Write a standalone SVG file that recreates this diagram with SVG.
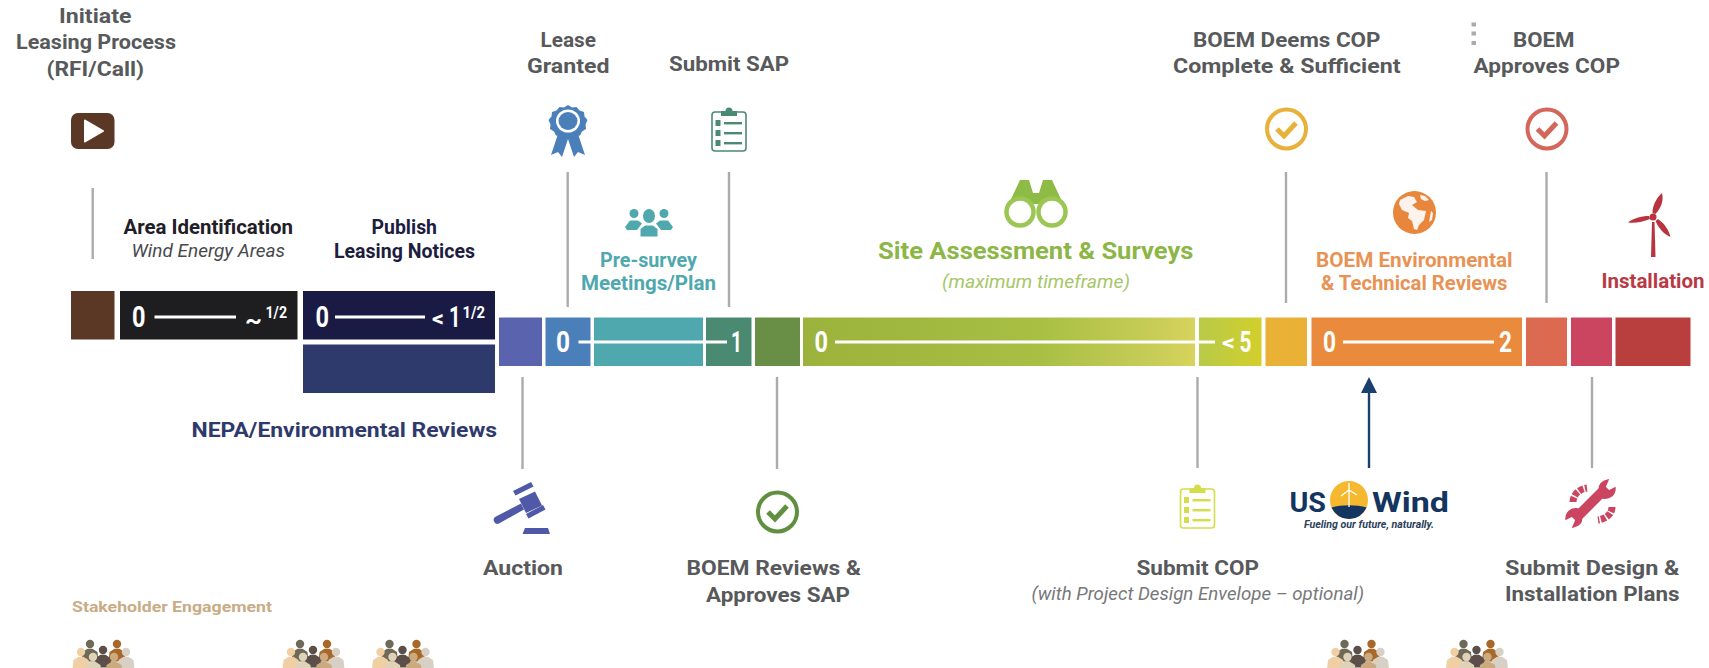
<svg xmlns="http://www.w3.org/2000/svg" xmlns:xlink="http://www.w3.org/1999/xlink" width="1709" height="668" viewBox="0 0 1709 668">
<style>
text{font-family:Roboto,"Open Sans","Liberation Sans",sans-serif;font-weight:700}
.g{font-size:20.500px;fill:#58595b}
.d{font-size:19.500px;fill:#1f2027}
.i{font-size:17.500px;font-style:italic;font-weight:400}
.n{font-size:29px;font-weight:700;fill:#fff}
.s{font-size:16px;font-weight:700;fill:#fff}
.c{stroke:#a9abad;stroke-width:2.400;fill:none}
.w{stroke:#fff;stroke-width:3;fill:none}
.ck{fill:none;stroke-width:4}
.ckm{fill:none;stroke-width:5;stroke-linejoin:miter}
</style>
<defs>
<linearGradient id="grad1" x1="0" x2="1" y1="0" y2="0">
<stop offset="0" stop-color="#9bb23c"/><stop offset=".6" stop-color="#a8bf44"/><stop offset=".9" stop-color="#c8cd58"/><stop offset="1" stop-color="#d8d35c"/>
</linearGradient>
<linearGradient id="grad2" x1="0" x2="1" y1="0" y2="0">
<stop offset="0" stop-color="#b8ca48"/><stop offset="1" stop-color="#d3cf2c"/>
</linearGradient>
<path id="person" d="M0-4.200a4 4 0 0 1 0 8.400a4 4 0 0 1 0-8.400zM-2.500 4.800h5l5 3.200 1 9.500h-17l1-9.500z"/>
<g id="crowd">
<use xlink:href="#person" x="18" y="6" fill="#6f6a57"/>
<use xlink:href="#person" x="45" y="6" fill="#a8682a"/>
<use xlink:href="#person" x="9" y="14" fill="#f0cfa4"/>
<use xlink:href="#person" x="54" y="14" fill="#d8d0c4"/>
<use xlink:href="#person" x="31" y="12" fill="#5c4f4a"/>
<use xlink:href="#person" x="21" y="19" fill="#ded3b8"/>
<use xlink:href="#person" x="42" y="19" fill="#c9ab7f"/>
</g>
<g id="clip">
<rect x="-17" y="5" width="34" height="39" rx="3" fill="#fff" stroke-width="1.600" stroke="currentColor"/>
<path d="M-8 5v-1h4.500a3.500 3.500 0 0 1 7 0h4.500v5h-16z" fill="currentColor"/>
<g fill="currentColor">
<rect x="-13.500" y="13" width="5" height="6"/><rect x="-13.500" y="23" width="5" height="6"/><rect x="-13.500" y="33" width="5" height="6"/>
<rect x="-5" y="15" width="18" height="2.400"/><rect x="-5" y="25" width="18" height="2.400"/><rect x="-5" y="35" width="18" height="2.400"/>
</g>
</g>
</defs>

<g id="connectors">
<path class="c" d="M92.700 188V259"/>
<path class="c" d="M567.700 172V307"/>
<path class="c" d="M729 172V307"/>
<path class="c" d="M1286 172V303"/>
<path class="c" d="M1546.500 172V303"/>
<path class="c" d="M522.500 377V469"/>
<path class="c" d="M777 377V469"/>
<path class="c" d="M1197.500 377V468"/>
<path class="c" d="M1592 377V468"/>
<path d="M1369 468V390" stroke="#1a4070" stroke-width="2.400" fill="none"/>
<path d="M1369 377l8 16h-16z" fill="#1a4070"/>
</g>

<g id="bar">
<rect x="71" y="291" width="43.500" height="48.500" fill="#5a3825"/>
<rect x="120" y="291" width="177.500" height="48.500" fill="#1e1e20"/>
<rect x="303" y="291" width="192" height="48.500" fill="#1a1b45"/>
<rect x="303" y="344.500" width="192" height="48.500" fill="#2f3a6c"/>
<rect x="499" y="317.500" width="43" height="48.500" fill="#5a63ad"/>
<rect x="545.500" y="317.500" width="45" height="48.500" fill="#4a7fba"/>
<rect x="594" y="317.500" width="109" height="48.500" fill="#4fa8ae"/>
<rect x="706" y="317.500" width="45.500" height="48.500" fill="#4a8a72"/>
<rect x="755" y="317.500" width="45" height="48.500" fill="#688f45"/>
<rect x="803" y="317.500" width="392" height="48.500" fill="url(#grad1)"/>
<rect x="1199" y="317.500" width="62.500" height="48.500" fill="url(#grad2)"/>
<rect x="1265.500" y="317.500" width="41.500" height="48.500" fill="#eab137"/>
<rect x="1311.500" y="317.500" width="210.500" height="48.500" fill="#e98a3c"/>
<rect x="1526" y="317.500" width="41" height="48.500" fill="#dc6a50"/>
<rect x="1571" y="317.500" width="41" height="48.500" fill="#cb4560"/>
<rect x="1615.500" y="317.500" width="75" height="48.500" fill="#b93e3e"/>
<path class="w" d="M154.500 317H236M335 317H425M578.500 342H727M835 342H1215M1343 342H1494"/>
<text class="n" x="132" y="327" textLength="13.500" lengthAdjust="spacingAndGlyphs">0</text>
<text class="n" x="245" y="328" style="font-size:24px" textLength="17" lengthAdjust="spacingAndGlyphs">~</text>
<text class="s" x="265.500" y="318" textLength="21.500" lengthAdjust="spacingAndGlyphs">1/2</text>
<text class="n" x="315.500" y="327" textLength="13.500" lengthAdjust="spacingAndGlyphs">0</text>
<text class="n" x="432" y="326" style="font-size:22px" textLength="12" lengthAdjust="spacingAndGlyphs">&lt;</text>
<text class="n" x="449" y="327" textLength="11.500" lengthAdjust="spacingAndGlyphs">1</text>
<text class="s" x="462.500" y="318" textLength="22.500" lengthAdjust="spacingAndGlyphs">1/2</text>
<text class="n" x="556" y="352" textLength="14" lengthAdjust="spacingAndGlyphs">0</text>
<text class="n" x="731" y="352" textLength="11" lengthAdjust="spacingAndGlyphs">1</text>
<text class="n" x="814.500" y="352" textLength="13.500" lengthAdjust="spacingAndGlyphs">0</text>
<text class="n" x="1222" y="350" style="font-size:22px" textLength="13" lengthAdjust="spacingAndGlyphs">&lt;</text>
<text class="n" x="1239.500" y="352" textLength="12" lengthAdjust="spacingAndGlyphs">5</text>
<text class="n" x="1323" y="352" textLength="13" lengthAdjust="spacingAndGlyphs">0</text>
<text class="n" x="1499" y="352" textLength="13" lengthAdjust="spacingAndGlyphs">2</text>
</g>

<g id="node-initiate">
<text class="g" x="59" y="22.700" textLength="72.500" lengthAdjust="spacingAndGlyphs">Initiate</text>
<text class="g" x="16" y="49.300" textLength="160" lengthAdjust="spacingAndGlyphs">Leasing Process</text>
<text class="g" x="46.500" y="75.500" textLength="97.500" lengthAdjust="spacingAndGlyphs">(RFI/Call)</text>
<rect x="71" y="113" width="43.500" height="36" rx="7" fill="#5a3825"/>
<path d="M85 120.500L103 131L85 141.500z" fill="#fff" stroke="#fff" stroke-width="2" stroke-linejoin="round"/>
</g>
<g id="node-area">
<text class="d" x="123.500" y="234" textLength="169.500" lengthAdjust="spacingAndGlyphs">Area Identification</text>
<text class="i" x="131.500" y="257" textLength="153.500" lengthAdjust="spacingAndGlyphs" fill="#48494c">Wind Energy Areas</text>
</g>
<g id="node-publish">
<text class="d" x="371.500" y="234" textLength="65.500" lengthAdjust="spacingAndGlyphs" style="fill:#1c1d40">Publish</text>
<text class="d" x="334" y="257.500" textLength="141" lengthAdjust="spacingAndGlyphs" style="fill:#1c1d40">Leasing Notices</text>
</g>
<g id="node-nepa">
<text class="g" x="191.500" y="437" textLength="305.500" lengthAdjust="spacingAndGlyphs" style="fill:#2f3a6c">NEPA/Environmental Reviews</text>
</g>
<g id="node-lease">
<text class="g" x="540.500" y="47" textLength="55.500" lengthAdjust="spacingAndGlyphs">Lease</text>
<text class="g" x="527" y="73" textLength="82.500" lengthAdjust="spacingAndGlyphs">Granted</text>
<path d="M558 134l-7 21 7-3 4 5 6-18 6 18 4-5 7 3-7-21z" fill="#4a7fba"/>
<path d="M568 105l4 2.500 4.500-.5 3 3.500 4.500 1.500.5 4.500 3 3.500-2 4.500.5 4.500-4 2.500-2 4-4.500.5-3.500 3-4-1.500-4 1.500-3.500-3-4.500-.5-2-4-4-2.500.5-4.500-2-4.500 3-3.500.5-4.500 4.500-1.500 3-3.500 4.500.5z" fill="#4a7fba"/>
<ellipse cx="568" cy="121" rx="12" ry="11.500" fill="#fff"/>
<ellipse cx="568" cy="121" rx="9.500" ry="9" fill="#4a7fba"/>
</g>
<g id="node-submit-sap">
<text class="g" x="669" y="71" textLength="120" lengthAdjust="spacingAndGlyphs">Submit SAP</text>
<use xlink:href="#clip" x="729" y="107" color="#4a8a72"/>
</g>
<g id="node-presurvey" fill="#4fa8ae">
<circle cx="634" cy="213.500" r="4.500"/><circle cx="664" cy="213.500" r="4.500"/>
<path d="M625 227l5-6.500h8l4 3-5 6.500h-10zM673 227l-5-6.500h-8l-4 3 5 6.500h10z"/>
<ellipse cx="649" cy="216" rx="6" ry="7"/>
<path d="M640 237v-8l5-4h8l5 4v8z" stroke="#fff" stroke-width="1"/>
<text class="g" x="600" y="266.700" textLength="97" lengthAdjust="spacingAndGlyphs" style="fill:#4fa8ae">Pre-survey</text>
<text class="g" x="581" y="290" textLength="135" lengthAdjust="spacingAndGlyphs" style="fill:#4fa8ae">Meetings/Plan</text>
</g>
<g id="node-site">
<path d="M1020 180h9l4 13h6l4-13h9l15 32h-19l-9-8h-6l-9 8h-19z" fill="#8dbb45"/>
<circle cx="1020" cy="212" r="13.500" fill="#fff" stroke="#9cc653" stroke-width="4.500"/>
<circle cx="1052" cy="212" r="13.500" fill="#fff" stroke="#9cc653" stroke-width="4.500"/>
<text class="g" x="878" y="259.300" textLength="315.500" lengthAdjust="spacingAndGlyphs" style="font-size:24px;fill:#8cb646">Site Assessment &amp; Surveys</text>
<text class="i" x="942" y="288" textLength="188" lengthAdjust="spacingAndGlyphs" fill="#a5c766">(maximum timeframe)</text>
</g>
<g id="node-deems">
<text class="g" x="1193" y="46.700" textLength="187.500" lengthAdjust="spacingAndGlyphs">BOEM Deems COP</text>
<text class="g" x="1173" y="73" textLength="227.500" lengthAdjust="spacingAndGlyphs">Complete &amp; Sufficient</text>
<circle class="ck" cx="1286.500" cy="129" r="19.500" stroke="#e8b13a"/>
<path class="ckm" d="M1277 129l7 7 12-13" stroke="#e8b13a"/>
</g>
<g id="node-approves">
<path d="M1471.500 22.500h4.500v4h-4.500zM1471.500 31.500h4.500v4h-4.500zM1471.500 41h4.500v4h-4.500z" fill="#a9abad"/>
<text class="g" x="1513" y="46.700" textLength="61.500" lengthAdjust="spacingAndGlyphs">BOEM</text>
<text class="g" x="1473.500" y="73" textLength="146.500" lengthAdjust="spacingAndGlyphs">Approves COP</text>
<circle class="ck" cx="1547" cy="129" r="19.500" stroke="#d4675a"/>
<path class="ckm" d="M1537.500 129l7 7 12-13" stroke="#d4675a"/>
</g>
<g id="node-env">
<circle cx="1414.500" cy="212.500" r="21.500" fill="#e8863c"/>
<path d="M1400 200l8-4 6 1 3 5-5 3 6 5 8 1-2 9-5 5-2 5-3-1-2-8-4-3 1-5-7-3-3-6zM1420 195l5 1 4 4-4 1-4-2zM1431 211l2 2-1 7-3 2z" fill="#fff" opacity=".9"/>
<text class="g" x="1316" y="266.700" textLength="196.500" lengthAdjust="spacingAndGlyphs" style="fill:#e89355">BOEM Environmental</text>
<text class="g" x="1321" y="290" textLength="186.500" lengthAdjust="spacingAndGlyphs" style="fill:#e89355">&amp; Technical Reviews</text>
</g>
<g id="node-installation" fill="#b8343f">
<path d="M1651 257l1-35h2.500l1 35z"/>
<path d="M1662 193c2 8-1 15-6.500 21l-3-1c0-8 4-15 9.500-20zM1628 222.500c5-4 13-6.500 21-6.500l1 3c-7 3-15 4.500-22 3.500zM1670.500 237c-7-3-12-9-15-16l2.500-2c6 4 11 11 12.500 18z"/>
<circle cx="1653" cy="217" r="3.500"/>
<text class="g" x="1601.500" y="288" textLength="103" lengthAdjust="spacingAndGlyphs" style="fill:#b83a45">Installation</text>
</g>
<g id="node-auction" fill="#5059a8">
<path d="M496 516.500l25-13 3 6-25 14a3.800 3.800 0 0 1-3-7z"/>
<path d="M519 499l16-7.500 7 14-16 7.500z"/>
<path d="M513 491l18-9 2.500 4.500-18 9zM526 514l17-9 2.500 4.500-17 9z"/>
<path d="M525 528h23l2 6h-27.500z"/>
<text class="g" x="483" y="575" textLength="80" lengthAdjust="spacingAndGlyphs">Auction</text>
</g>
<g id="node-reviews-sap">
<circle class="ck" cx="777.500" cy="512" r="19.500" stroke="#5f8f3f"/>
<path class="ckm" d="M768 512l7 7 12-13" stroke="#5f8f3f"/>
<text class="g" x="686.500" y="575" textLength="174.500" lengthAdjust="spacingAndGlyphs">BOEM Reviews &amp;</text>
<text class="g" x="706" y="601.700" textLength="144" lengthAdjust="spacingAndGlyphs">Approves SAP</text>
</g>
<g id="node-submit-cop">
<use xlink:href="#clip" x="1197.500" y="484" color="#d4dd4a"/>
<text class="g" x="1136.500" y="574.700" textLength="122.500" lengthAdjust="spacingAndGlyphs">Submit COP</text>
<text class="i" x="1031.500" y="600" textLength="332.500" lengthAdjust="spacingAndGlyphs" fill="#77787b">(with Project Design Envelope – optional)</text>
</g>
<g id="node-uswind">
<circle cx="1349" cy="500" r="19" fill="#f5b82e"/>
<path d="M1331.500 507.500c10-3 25-3 35 0a19 19 0 0 1-35 0z" fill="#13355f"/>
<path d="M1349 507v-17M1349 490l-8 6M1349 490l8 5M1349 490v-7" stroke="#fff" stroke-width="1.300" fill="none"/>
<text x="1289.500" y="511.500" textLength="36.500" lengthAdjust="spacingAndGlyphs" style="font-size:28px;fill:#13355f">US</text>
<text x="1372" y="511.500" textLength="77" lengthAdjust="spacingAndGlyphs" style="font-size:28px;fill:#13355f">Wind</text>
<text x="1304" y="528" textLength="130" lengthAdjust="spacingAndGlyphs" style="font-size:10px;font-style:italic;fill:#2b3f5c">Fueling our future, naturally.</text>
</g>
<g id="node-design">
<g fill="none" stroke="#cc4560">
<path d="M1576 518L1605 489" stroke-width="10"/>
<path d="M1600 491c-2-6 2-10 8-11l-3 7 4 4 6-3c0 7-5 11-12 10zM1581 516c2 6-2 10-8 11l3-7-4-4-6 3c0-7 5-11 12-10z" fill="#cc4560" stroke-width="1.500"/>
<path d="M1573 502c0-7 6-13 14-14" stroke-width="7" stroke-dasharray="5 1.500"/>
<path d="M1612 507c0 7-6 12-14 13" stroke-width="7" stroke-dasharray="5 1.500"/>
</g>
<text class="g" x="1505" y="574.700" textLength="174.500" lengthAdjust="spacingAndGlyphs">Submit Design &amp;</text>
<text class="g" x="1505" y="601" textLength="174.500" lengthAdjust="spacingAndGlyphs">Installation Plans</text>
</g>
<g id="node-stakeholder">
<text x="72" y="612" textLength="200" lengthAdjust="spacingAndGlyphs" style="font-size:15.500px;fill:#c9ac86">Stakeholder Engagement</text>
<use xlink:href="#crowd" x="72" y="638"/>
<use xlink:href="#crowd" x="282" y="638"/>
<use xlink:href="#crowd" x="371.500" y="638"/>
<use xlink:href="#crowd" x="1326.500" y="638"/>
<use xlink:href="#crowd" x="1445.500" y="638"/>
</g>
</svg>
